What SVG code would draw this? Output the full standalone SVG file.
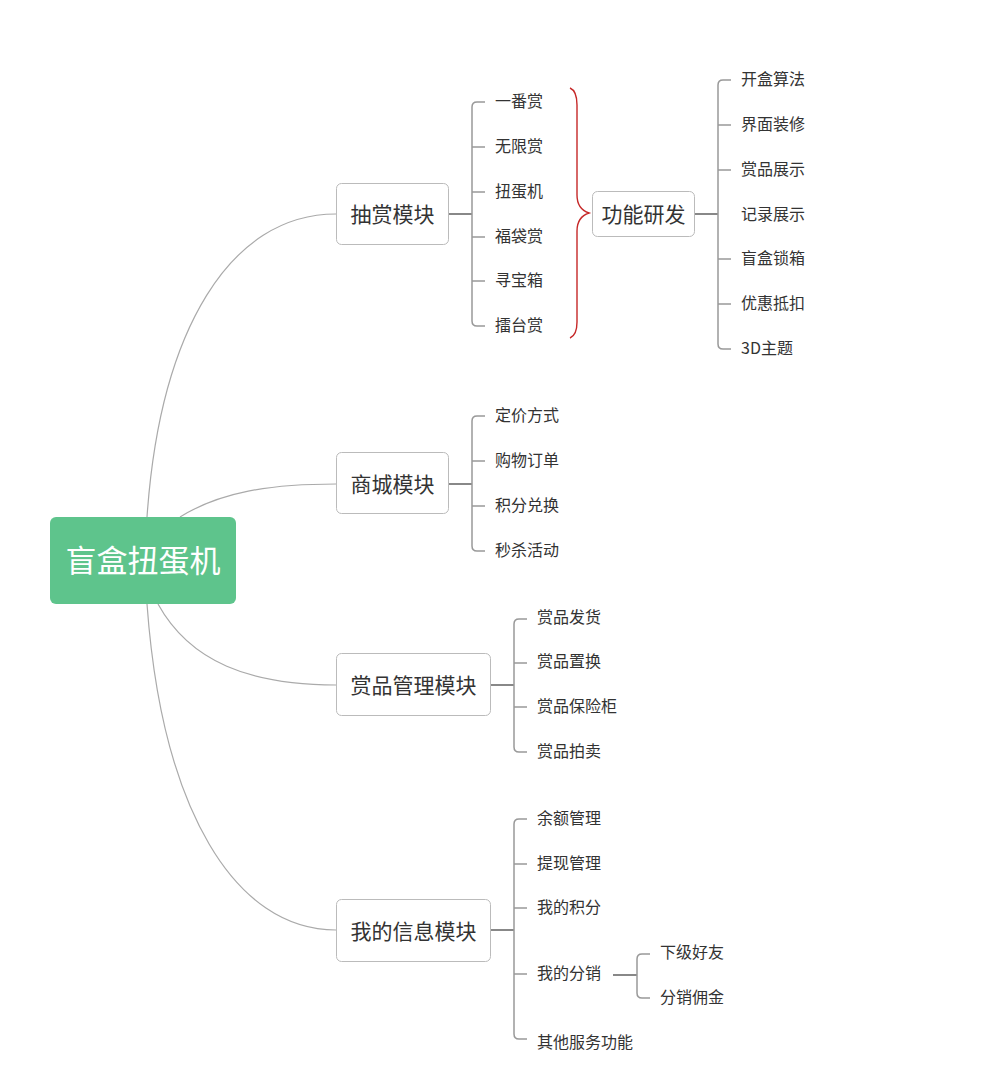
<svg xmlns="http://www.w3.org/2000/svg" width="991" height="1082" viewBox="0 0 991 1082">
<style>
text{font-family:"Noto Sans CJK SC","Microsoft YaHei","Noto Sans",sans-serif;fill:#333}
.c{font-size:16px}
.m{font-size:21px;text-anchor:middle}
.box{fill:#fff;stroke:#bbb;stroke-width:1}
.curve{fill:none;stroke:#aaa;stroke-width:1.2}
.br{fill:none;stroke:#999;stroke-width:1.5}
.hb{fill:none;stroke:#888;stroke-width:2}
</style>
<rect width="991" height="1082" fill="#fff"/>
<g id="connectors">
<path class="curve" d="M147,517 C160,330 230,214 336,214"/>
<path class="curve" d="M180,517 C220,492 270,484 336,484"/>
<path class="curve" d="M158,604 C190,662 250,685 336,685"/>
<path class="curve" d="M147,604 C162,810 235,930 336,930"/>
<path class="hb" d="M449,214 H472"/>
<path class="br" d="M485,102 H477 Q472,102 472,107 V321 Q472,326 477,326 H485 M472,147 H485 M472,192 H485 M472,237 H485 M472,281 H485"/>
<path class="hb" d="M449,484 H472"/>
<path class="br" d="M485,416 H477 Q472,416 472,421 V546 Q472,551 477,551 H485 M472,461 H485 M472,506 H485"/>
<path class="hb" d="M491,685 H514"/>
<path class="br" d="M527,619 H519 Q514,619 514,624 V747 Q514,752 519,752 H527 M514,663 H527 M514,707 H527"/>
<path class="hb" d="M491,930 H514"/>
<path class="br" d="M527,819 H519 Q514,819 514,824 V1034 Q514,1039 519,1039 H527 M514,864 H527 M514,908 H527 M514,974 H527"/>
<path class="hb" d="M613,975 H637"/>
<path class="br" d="M650,954 H642 Q637,954 637,959 V993 Q637,998 642,998 H650"/>
<path class="hb" d="M695,214 H718"/>
<path class="br" d="M731,80 H723 Q718,80 718,85 V344 Q718,349 723,349 H731 M718,125 H731 M718,170 H731 M718,259 H731 M718,304 H731"/>
<path fill="none" stroke="#c62828" stroke-width="1.4" d="M570,88 Q577,91 577,105 V195 Q577,209 589,213 Q577,217 577,231 V322 Q577,335 570,338"/>
</g>
<g id="root">
<rect x="50" y="517" width="186" height="87" rx="6" fill="#5ec48c"/>
<text x="143" y="572" style="font-size:31px;text-anchor:middle;fill:#fff">盲盒扭蛋机</text>
</g>
<g id="n-choushang">
<rect class="box" x="336.5" y="183.5" width="112" height="61" rx="5"/>
<text class="m" x="392.5" y="222">抽赏模块</text>
</g>
<g id="n-shangcheng">
<rect class="box" x="336.5" y="452.5" width="112" height="61" rx="5"/>
<text class="m" x="392.5" y="491.5">商城模块</text>
</g>
<g id="n-shangpin">
<rect class="box" x="336.5" y="653.5" width="154" height="62" rx="5"/>
<text class="m" x="413.5" y="693">赏品管理模块</text>
</g>
<g id="n-wode">
<rect class="box" x="336.5" y="899.5" width="154" height="62" rx="5"/>
<text class="m" x="413.5" y="938.5">我的信息模块</text>
</g>
<g id="n-gongneng">
<rect class="box" x="592.5" y="191.5" width="102" height="45" rx="5"/>
<text class="m" x="643.5" y="221.5">功能研发</text>
</g>
<g id="leaves-choushang">
<text class="c" x="495" y="107">一番赏</text>
<text class="c" x="495" y="152">无限赏</text>
<text class="c" x="495" y="197">扭蛋机</text>
<text class="c" x="495" y="242">福袋赏</text>
<text class="c" x="495" y="286">寻宝箱</text>
<text class="c" x="495" y="331">擂台赏</text>
</g>
<g id="leaves-gongneng">
<text class="c" x="741" y="85">开盒算法</text>
<text class="c" x="741" y="130">界面装修</text>
<text class="c" x="741" y="175">赏品展示</text>
<text class="c" x="741" y="220">记录展示</text>
<text class="c" x="741" y="264">盲盒锁箱</text>
<text class="c" x="741" y="309">优惠抵扣</text>
<text class="c" x="741" y="354">3D主题</text>
</g>
<g id="leaves-shangcheng">
<text class="c" x="495" y="421">定价方式</text>
<text class="c" x="495" y="466">购物订单</text>
<text class="c" x="495" y="511">积分兑换</text>
<text class="c" x="495" y="556">秒杀活动</text>
</g>
<g id="leaves-shangpin">
<text class="c" x="537" y="623">赏品发货</text>
<text class="c" x="537" y="667">赏品置换</text>
<text class="c" x="537" y="712">赏品保险柜</text>
<text class="c" x="537" y="757">赏品拍卖</text>
</g>
<g id="leaves-wode">
<text class="c" x="537" y="824">余额管理</text>
<text class="c" x="537" y="869">提现管理</text>
<text class="c" x="537" y="913">我的积分</text>
<text class="c" x="537" y="979">我的分销</text>
<text class="c" x="537" y="1048">其他服务功能</text>
</g>
<g id="leaves-fenxiao">
<text class="c" x="660" y="958">下级好友</text>
<text class="c" x="660" y="1003">分销佣金</text>
</g>
</svg>
